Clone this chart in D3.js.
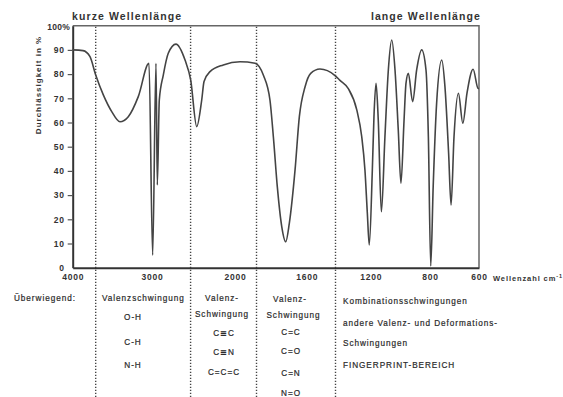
<!DOCTYPE html>
<html>
<head>
<meta charset="utf-8">
<script src="https://cdn.jsdelivr.net/npm/d3@7"></script>
<style>
  html, body { margin: 0; padding: 0; background: #fff; }
  svg { display: block; }
  text { font-family: "Liberation Sans", Arial, Helvetica, sans-serif; fill: #333; }
</style>
</head>
<body>
<svg id="chart" width="563" height="397"></svg>
<script>
// IR spectrum: wavenumber (cm^-1) vs. transmission (%)
const wavenumber = [4000,3870,3782,3710,3614,3508,3404,3299,3173,3038,
  2992,2952,2936,2912,2864,2804,2711,2602,2534,2461,
  2401,2373,2301,2141,1972,1888,1842,1805,1786,1764,
  1739,1717,1697,1665,1641,1609,1575,1517,1423,1392,
  1340,1287,1256,1236,1221,1209,1189,1178,1164,1149,
  1128,1104,1081,1058,1036,1014,996,975,962,946,
  917,890,856,827,811,797,787,773,752,739,
  724,714,702,684,666,649,624,604,600];
const transmission = [90,89.7,87.2,79.6,71.4,64.5,60.3,62.4,70.7,84.5,
  5.2,84.5,34.2,69.3,79.6,88.6,92.4,85.8,77.6,58.3,
  69.3,76.9,81,83.8,85.1,84.5,79.6,69.3,54.1,33.5,
  16.9,10.7,18.3,40.4,62.4,74.8,80.3,82.1,79.4,77.4,
  74,65.2,54.1,40.4,22.5,9.4,40.4,62.4,76.2,61,
  23.1,54.1,81.7,94.1,81.7,56.9,34.9,61,76.2,80.3,
  68.6,81.7,90,81.7,54.1,0.7,33.5,67.9,85.8,74.8,
  47.3,25.9,54.1,72.1,59.7,72.1,82,74.1,74];

// axis break points of the (non-uniform) wavenumber axis, also the tick labels
const xTicks = [4000, 3000, 2000, 1600, 1200, 800, 600];
const yTicks = [0, 10, 20, 30, 40, 50, 60, 70, 80, 90, 100];
// boundaries between the absorption regions
const regionBounds = [3710, 2535, 1880, 1420];

const topLeftLabel = "kurze Wellenlänge";
const topRightLabel = "lange Wellenlänge";
const yTitle = "Durchlässigkeit in %";
const xTitle = "Wellenzahl cm";

const rowHead = "Überwiegend:";
const col1Head = ["Valenzschwingung"];
const col1Items = ["O-H", "C-H", "N-H"];
const col2Head = ["Valenz-", "Schwingung"];
const col2Items = ["C≡C", "C≡N", "C=C=C"];
const col3Head = ["Valenz-", "Schwingung"];
const col3Items = ["C=C", "C=O", "C=N", "N=O"];
const col4Lines = ["Kombinationsschwingungen", "andere Valenz- und Deformations-", "Schwingungen", "FINGERPRINT-BEREICH"];

const svg = d3.select("#chart");
const L = 72.7, R = 479, T = 25.7, B = 267.7;

const x = d3.scaleLinear()
  .domain(xTicks)
  .range([L, 152, 235, 306.7, 370.7, 430, R]);
const y = d3.scaleLinear().domain([0, 100]).range([B, T]);

// frame: top and right edges
svg.append("path")
  .attr("d", `M${L},${T}H${R}V${B}`)
  .attr("fill", "none").attr("stroke", "#666").attr("stroke-width", 1.5);

// dotted region separators, running down through the label table
svg.append("g").selectAll("line").data(regionBounds).join("line")
  .attr("x1", d => x(d)).attr("x2", d => x(d))
  .attr("y1", T + 1).attr("y2", 397)
  .attr("stroke", "#444").attr("stroke-width", 1.4)
  .attr("stroke-dasharray", "1.4,1.6");

function tickStyle(sel) {
  sel.attr("font-size", 8.5).attr("font-weight", "bold")
    .style("letter-spacing", "0.8px").style("fill", "#333")
    .attr("font-family", "Liberation Sans, Arial, sans-serif");
}

// y axis
const yAxis = svg.append("g")
  .attr("transform", `translate(${L},0)`)
  .call(d3.axisLeft(y).tickValues(yTicks).tickSize(5).tickSizeOuter(0).tickPadding(3));
yAxis.select(".domain").attr("stroke", "#333").attr("stroke-width", 2);
yAxis.selectAll(".tick line").attr("stroke", "#555").attr("stroke-width", 1.2);
yAxis.selectAll(".tick text").call(tickStyle);
yAxis.selectAll(".tick").filter(d => d === 100).select("text")
  .text("100%").attr("x", -2.5).attr("dy", "0.5em").style("letter-spacing", "0.3px");
yAxis.selectAll(".tick").filter(d => d === 100 || d === 0).select("line").remove();

// x axis
const xAxis = svg.append("g")
  .attr("transform", `translate(0,${B})`)
  .call(d3.axisBottom(x).tickValues(xTicks).tickSize(0).tickSizeOuter(0).tickPadding(6).tickFormat(d3.format("d")));
xAxis.select(".domain").attr("stroke", "#333").attr("stroke-width", 2);
xAxis.selectAll(".tick text").call(tickStyle);

// spectrum curve
const data = wavenumber.map((w, i) => ({ w, t: transmission[i] }));
svg.append("path")
  .datum(data)
  .attr("fill", "none")
  .attr("stroke", "#444")
  .attr("stroke-width", 1.6)
  .attr("stroke-linejoin", "round")
  .attr("d", d3.line().x(d => x(d.w)).y(d => y(d.t)).curve(d3.curveMonotoneX));

// titles
svg.append("text").attr("x", 72).attr("y", 20)
  .attr("font-size", 10.5).attr("font-weight", "bold").style("letter-spacing", "1.1px")
  .text(topLeftLabel);
svg.append("text").attr("x", 481).attr("y", 20).attr("text-anchor", "end")
  .attr("font-size", 10.5).attr("font-weight", "bold").style("letter-spacing", "1.1px")
  .text(topRightLabel);

svg.append("text")
  .attr("transform", "translate(41,85) rotate(-90)")
  .attr("text-anchor", "middle")
  .attr("font-size", 8).attr("font-weight", "bold").style("letter-spacing", "1px")
  .text(yTitle);

const xt = svg.append("text").attr("x", 493).attr("y", 280.5)
  .attr("font-size", 7.5).attr("font-weight", "bold").style("letter-spacing", "0.9px");
xt.append("tspan").text(xTitle);
xt.append("tspan").attr("dy", -3).attr("font-size", 5.5).text("-1");

// label table under the chart
const tbl = svg.append("g").attr("font-size", 8.2);

function put(str, px, py, anchor) {
  const t = tbl.append("text").attr("x", px).attr("y", py)
    .attr("text-anchor", anchor || "middle")
    .style("fill", "#2a2a2a")
    .style("stroke", "#2a2a2a").style("stroke-width", "0.2px")
    .style("letter-spacing", "0.95px");
  // triple bond glyph from a font that carries it
  str.split(/(≡)/).forEach(part => {
    if (!part) return;
    const sp = t.append("tspan").text(part);
    if (part === "≡") sp.attr("font-family", "DejaVu Sans").attr("font-weight", "bold");
  });
}

put(rowHead, 14, 301, "start");
put(col1Head[0], 102, 301, "start");
col1Items.forEach((s, i) => put(s, 133, [319.5, 345, 368][i]));

col2Head.forEach((s, i) => put(s, 222, [301, 317][i]));
col2Items.forEach((s, i) => put(s, 224, [335.7, 354.7, 374.7][i]));

col3Head.forEach((s, i) => put(s, [290, 293.5][i], [302, 318][i]));
col3Items.forEach((s, i) => put(s, 291, [334.7, 354, 375.5, 396][i]));

col4Lines.forEach((s, i) => put(s, 343, [303.5, 325.5, 346, 368][i], "start"));
</script>
</body>
</html>
